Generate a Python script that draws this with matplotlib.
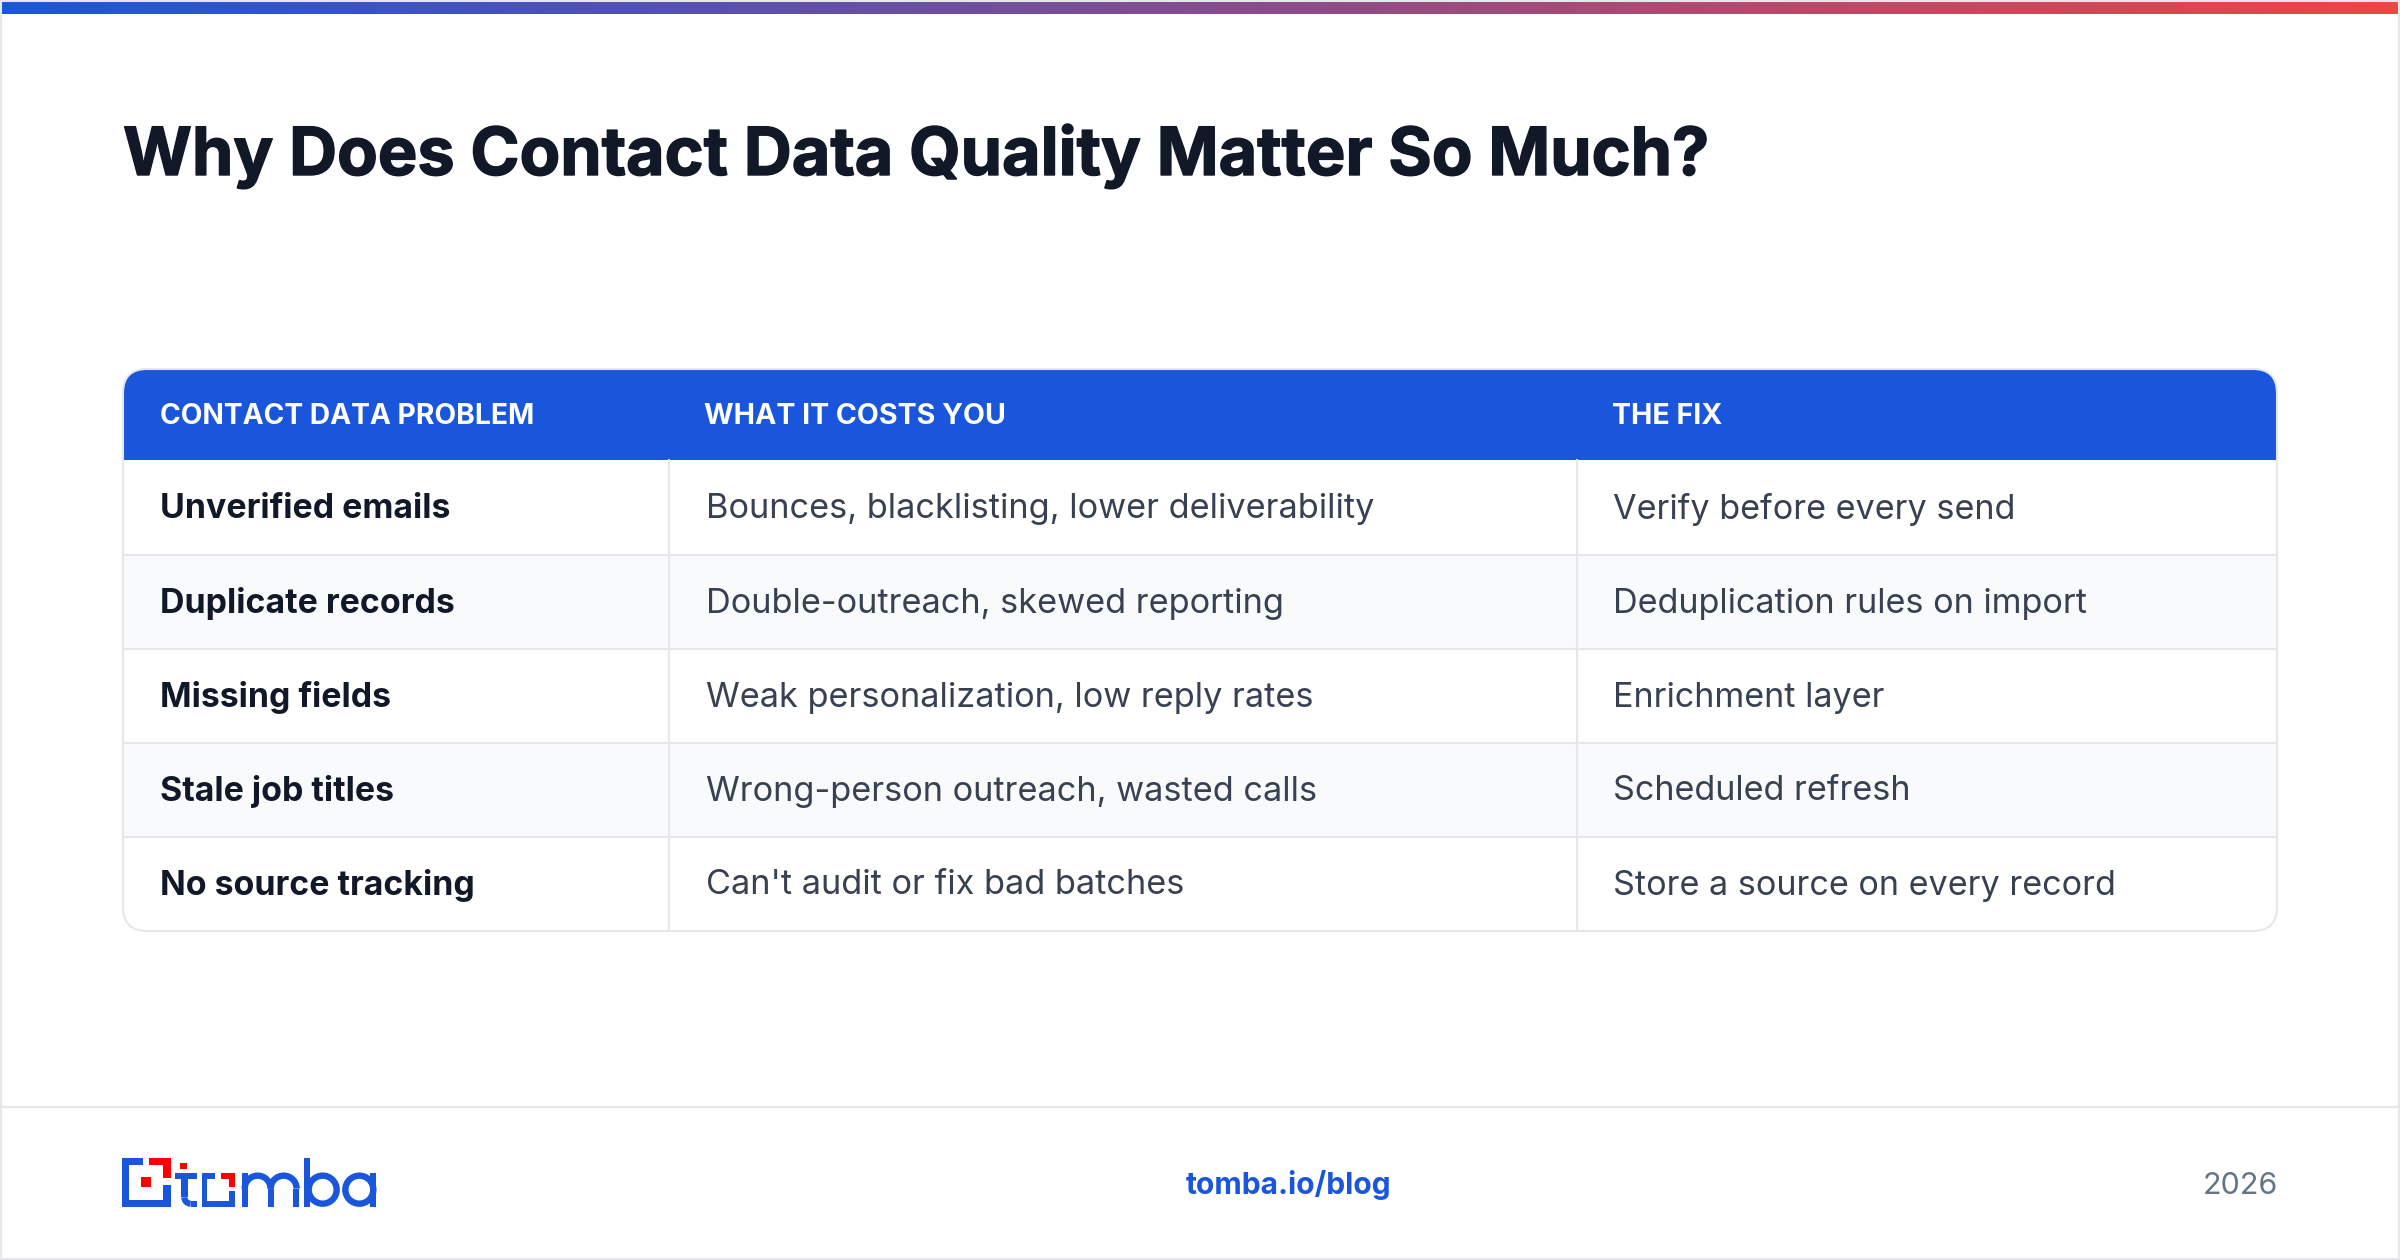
import numpy as np
import matplotlib
matplotlib.use('Agg')
import matplotlib.pyplot as plt
import matplotlib.patheffects as pe
from matplotlib.patches import FancyBboxPatch, Rectangle, Circle, Arc
from matplotlib.colors import LinearSegmentedColormap

title = "Why Does Contact Data Quality Matter So Much?"
headers = ["CONTACT DATA PROBLEM", "WHAT IT COSTS YOU", "THE FIX"]
problems = ["Unverified emails", "Duplicate records", "Missing fields", "Stale job titles", "No source tracking"]
costs = ["Bounces, blacklisting, lower deliverability", "Double-outreach, skewed reporting",
         "Weak personalization, low reply rates", "Wrong-person outreach, wasted calls",
         "Can't audit or fix bad batches"]
fixes = ["Verify before every send", "Deduplication rules on import", "Enrichment layer",
         "Scheduled refresh", "Store a source on every record"]
footer_link = "tomba.io/blog"
footer_year = "2026"

BLUE = '#1a56db'
RED = '#fe0000'
LINE = '#e5e7eb'

plt.rcParams['font.family'] = ['Inter', 'DejaVu Sans']

fig = plt.figure(figsize=(24, 12.6), dpi=100, facecolor='white')
ax = fig.add_axes([0, 0, 1, 1])
ax.set_xlim(0, 2400)
ax.set_ylim(1260, 0)
ax.axis('off')

# page border and gradient strip
ax.add_patch(Rectangle((1, 1), 2398, 1258, fc='none', ec=LINE, lw=1.5))
cmap = LinearSegmentedColormap.from_list('strip', [BLUE, '#ef4444'])
ax.imshow(np.linspace(0, 1, 512).reshape(1, -1), extent=(2, 2398, 14, 2), cmap=cmap, aspect='auto')
ax.set_xlim(0, 2400)
ax.set_ylim(1260, 0)

ax.text(123, 156.5, title, fontsize=47.85, fontweight='bold', color='#111827', va='center', ha='left',
        path_effects=[pe.withStroke(linewidth=1.0, foreground='#111827')])

# table
left, right, top, bottom = 123, 2277, 369, 931
col_x = [left, 669, 1577, right]
row_y = [460, 555, 649, 743, 837, 931]
clip = FancyBboxPatch((left, top), right - left, bottom - top, boxstyle='round,pad=0,rounding_size=24',
                      fc='white', ec='none')
ax.add_patch(clip)

def clipped(p):
    ax.add_patch(p)
    p.set_clip_path(clip)

clipped(Rectangle((left, top), right - left, row_y[0] - top, fc=BLUE, ec='none'))
for i in range(5):
    if i % 2 == 1:
        clipped(Rectangle((left, row_y[i]), right - left, row_y[i + 1] - row_y[i], fc='#f9fafb', ec='none'))
for y in row_y[1:-1]:
    ax.plot([left, right], [y, y], color=LINE, lw=1.5, zorder=3)
for x in col_x[1:-1]:
    ax.plot([x, x], [row_y[0], bottom], color=LINE, lw=1.5, zorder=3)
ax.add_patch(FancyBboxPatch((left, top), right - left, bottom - top, boxstyle='round,pad=0,rounding_size=24',
                            fc='none', ec=LINE, lw=1.5, zorder=4))

head_x = [160, 704, 1612]
head_size = [20.3, 20.6, 20.6]
for x, h, s in zip(head_x, headers, head_size):
    ax.text(x, 416, h, fontsize=s, fontweight='bold', color='white', va='center', ha='left', zorder=5)
text_x = [160, 706, 1613]
for i in range(5):
    yc = (row_y[i] + row_y[i + 1]) / 2 + 1.5
    ax.text(text_x[0], yc, problems[i], fontsize=24.4, fontweight='bold', color='#111827', va='center', zorder=5)
    ax.text(text_x[1], yc, costs[i], fontsize=24.7, color='#374151', va='center', zorder=5)
    ax.text(text_x[2], yc, fixes[i], fontsize=24.6, color='#374151', va='center', zorder=5)

# footer
ax.plot([2, 2398], [1107, 1107], color=LINE, lw=1.5)
ax.text(1289, 1185, footer_link, fontsize=21.6, fontweight='bold', color=BLUE, ha='center', va='center')
ax.text(2278, 1185.5, footer_year, fontsize=22, color='#64748b', ha='right', va='center')

# logo, measured off the crop
def lx(v):
    return 100 + v / 3

def ly(v):
    return 1130 + v / 3

def box(x0, y0, x1, y1, c):
    ax.add_patch(Rectangle((lx(x0), ly(y0)), (x1 - x0) / 3, (y1 - y0) / 3, fc=c, ec='none'))

box(67, 84, 88, 230, BLUE)
box(67, 84, 130, 105, BLUE)
box(67, 209, 212, 230, BLUE)
box(188, 165, 212, 230, BLUE)
box(147, 84, 212, 105, RED)
box(188, 84, 212, 145, RED)
box(124, 142, 153, 171, RED)
box(240, 99, 262, 118, RED)
box(244, 128, 263, 202, BLUE)
box(226, 128, 290, 146, BLUE)
box(272, 212, 290, 230, BLUE)
ax.add_patch(Arc((lx(272), ly(202)), 38 / 3, 38 / 3, theta1=90, theta2=180, ec=BLUE, lw=4.4))
box(305, 128, 345, 146, BLUE)
box(305, 128, 322, 230, BLUE)
box(305, 212, 405, 230, BLUE)
box(388, 184, 405, 230, BLUE)
box(362, 128, 405, 146, RED)
box(388, 128, 405, 172, RED)

# m b a strokes
sw = 4.6
box(425, 128, 444, 230, BLUE)
box(503, 176, 521, 230, BLUE)
box(580, 176, 598, 230, BLUE)
for cx in (473, 551):
    ax.add_patch(Arc((lx(cx), ly(176)), 78 / 3, 78 / 3, theta1=180, theta2=360, ec=BLUE, lw=sw))
box(612, 84, 631, 230, BLUE)
ax.add_patch(Circle((lx(668), ly(179)), 42 / 3, fc='none', ec=BLUE, lw=sw))
ax.add_patch(Circle((lx(778), ly(179)), 42 / 3, fc='none', ec=BLUE, lw=sw))
box(810, 128, 829, 230, BLUE)

fig.savefig('out.png', dpi=100, facecolor='white')
